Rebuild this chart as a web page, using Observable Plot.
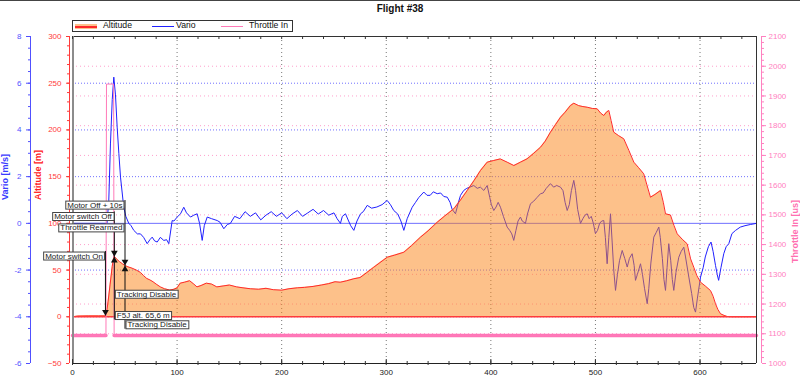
<!DOCTYPE html>
<html><head><meta charset="utf-8">
<script src="https://cdn.jsdelivr.net/npm/d3@7"></script>
<script src="https://cdn.jsdelivr.net/npm/@observablehq/plot@0.6"></script>
<style>
html,body{margin:0;padding:0;background:#fff;}
#wrap{position:relative;width:800px;height:385px;overflow:hidden;font-family:"Liberation Sans",Arial,sans-serif;}
#topline{position:absolute;left:0;top:0;width:800px;height:1px;background:#444;}
#title{position:absolute;left:0;top:3px;width:800px;text-align:center;font-weight:bold;font-size:10px;color:#111;}
#legend{position:absolute;left:72px;top:20px;width:219px;height:10px;border:1px solid #333;background:#fff;font-size:8.7px;color:#111;}
#legend .it{position:absolute;top:-1px;line-height:11px;white-space:nowrap;}
#legend .ln{position:absolute;top:5px;height:1px;width:22px;}
#legend .band{position:absolute;top:3px;height:5px;width:22px;background:#fdc18a;}
#chart{position:absolute;left:0;top:0;}
</style>
</head><body>
<div id="wrap">
  <div id="chart"></div>
  <div id="topline"></div>
  <div id="title">Flight #38</div>
  <div id="legend">
    <div class="band" style="left:2px"></div><div class="ln" style="left:2px;background:#ff2a2a;height:1.5px"></div>
    <div class="it" style="left:30px">Altitude</div>
    <div class="ln" style="left:79px;background:#2020ff"></div>
    <div class="it" style="left:103px">Vario</div>
    <div class="ln" style="left:148px;background:#ff7ab8"></div>
    <div class="it" style="left:176px">Throttle In</div>
  </div>
</div>
<script>
// ---------- data ----------
const altTimes = [0,5,15,25,31.5,32.5,34,36,38,39.5,40.5,42,45,48,50,53,57,61,65,68,71,74,77,80,84,88,93,97,100,103,107,112,116,119,123,128,133,138,144,150,157,163,170,178,185,192,200,207,215,222,230,238,245,251,256,262,269,275,281,288,294,301,308,316.8,324,332.7,340,348.7,356,364.6,371,377.4,384,390.1,396.5,402.8,409,415.6,422,428.3,434.7,441,447.5,452,457,462,466.6,471,476.1,479.3,484,488,492.1,497,501.7,505,508,510.5,512.8,515,517.5,522,527.1,532,536.7,541,546.2,549,552.6,557,562.2,565,567,571.7,575,578.2,583,587.7,591,594,597,600.5,605,610,612.5,614.8,617,619.6,623,626,630,654];
const altValues = [0,0.8,1,1,1,4,16,35,54,64.6,64,62,59,56.5,55,53.5,52,50,47.5,44,41,39.5,37.5,35,32,30,28.6,29.5,31,36,37,38.6,35,32,33.5,36,35,32,33,34,32,31,30,29.5,30.5,29,28.5,30,31,31.5,32.5,34,35.5,37.5,37,38.5,40.7,42,47,53,58,63.8,66,69.1,76,85.2,92,101.2,108,115.6,125,135.2,146,156.6,165.5,167.3,169,165.5,161.9,165.5,169.1,175,181.5,188,197.6,206,213.6,219,226.1,228.6,226,225,224.3,223,222.6,218,215.4,219,220.8,210,197.6,194,190.5,178,165.5,160,153,142,128,131,135.2,122,110.2,109,98,88.8,83,78.1,62,53.1,44,37,33,28.1,22,13.9,8,3.2,1.5,0.3,0,0];

const varioTimes = [0,33,34.7,36.3,38,39.5,41.1,42.7,44.3,45.9,49,51,53.8,56,58.6,62,65,68,71.4,74,76.2,78.5,81,84,87.3,90,92.1,95.3,97,100.1,103.3,106.4,109,112.8,116,119.2,121.5,124,126,128.8,133,138.4,141,144.7,148,151,155,160,165,170,175,180,185,190,195,200,205,210,215,220,225,230,235,240,245,250,253,256.2,258,261,264,266,269,272,275.4,278,281.8,286,291,296,300.9,304,307.2,311,314,316.8,320,324.8,328,331,335.9,339,342,345,348.7,352,355,358.3,361,363,366.2,369,371,374.1,377,380,383.7,387,390,393.3,396.5,399,400.5,402.8,405,407,409.2,412,415.6,418,420,421.9,424,426,428.3,430,433.1,435,437.9,441,444,447.5,450,453,457,460,463,466.6,469,471,473,475,477,479.3,481,483,485.7,488,490,492.1,494,496,498,500,502,504,506,508,509.5,511.2,512.8,514.4,516,517.5,519.2,521,523,525.6,528,530.4,532.5,535.1,537,538.3,540,543.1,545,547,549.5,551,553,555.8,558,560.6,562,564,565.5,567,568.5,570.1,572,573.5,574.9,577,579.7,582,584.5,586,589.3,592,594,595.7,597.5,600.5,603,605,608,610.5,612.5,614.8,616.5,617.8,620,622.7,625,627.5,630.5,634,638.5,643,648.1,654];
const varioValues = [0,0,0.98,3.4,5.3,6.26,5.5,4.12,3.0,1.98,0.69,0.3,0,-0.1,-0.3,-0.45,-0.45,-0.6,-0.87,-0.7,-0.59,-0.75,-0.8,-0.6,-0.73,-0.7,-0.87,0.12,0.1,0.27,0.41,0.69,0.45,0.27,0.35,0.41,0,-0.73,-0.1,0.27,0.2,0.12,0.05,-0.23,-0.05,0,0.3,0.2,0.5,0.3,0.45,0.15,0.35,0.5,0.3,0.45,0.2,0.4,0.55,0.3,0.45,0.6,0.4,0.55,0.35,0.45,0.2,0,0.3,0.41,0.1,-0.1,-0.3,0.1,0.41,0.5,0.77,0.65,0.7,0.8,0.98,0.8,0.55,0.4,0.1,-0.3,0.2,0.69,0.9,1.1,1.34,1.2,1.2,1.35,1.27,1.3,1.15,1.12,0.9,0.6,0.41,0.9,1.2,1.41,1.5,1.55,1.62,1.5,1.55,1.41,1.62,1.1,0.8,0.55,0.7,0.9,0.69,0.3,-0.16,-0.3,-0.45,-0.73,-0.3,0.1,0.27,0.1,0,0.4,0.84,0.95,1.1,1.27,1.3,1.5,1.7,1.55,1.62,1.55,1.4,0.9,0.55,0.8,1.4,1.84,1.4,0.6,0,0.2,0.35,0.41,0.2,0.3,0,-0.44,-0.3,0,0.1,0.12,-0.6,-1.73,-0.6,0.41,-0.8,-2.0,-2.87,-2.2,-1.6,-1.16,-1.5,-1.87,-1.5,-1.3,-1.8,-2.44,-2.2,-1.73,-2.2,-2.8,-3.44,-2.8,-1.7,-0.59,-0.4,-0.16,-0.6,-1.5,-2.4,-2.87,-1.9,-0.87,-1.6,-2.4,-2.87,-2.1,-1.45,-1.2,-1.02,-1.4,-2.3,-3.0,-3.6,-3.8,-3.2,-2.3,-1.9,-1.44,-1.0,-0.8,-1.2,-1.8,-2.2,-2.44,-1.9,-1.3,-1.0,-0.87,-0.44,-0.3,-0.16,-0.1,-0.05,0];

const throttleTimes = [0,32,32.5,39.3,39.8,654];
const throttleValues = [1094,1094,1940,1940,1094,1094];

const xTicks = [0,100,200,300,400,500,600];
const altTicks = [-50,0,50,100,150,200,250,300];
const varioTicks = [-6,-4,-2,0,2,4,6,8];
const throttleTicks = [1000,1100,1200,1300,1400,1500,1600,1700,1800,1900,2000,2100];

const annTimes  = [31.5, 40, 40, 40, 50.2, 50.2, 50.2];
const annTexts  = ["Motor switch On","Motor switch Off","F5J alt. 65,6 m","Tracking Disable","Motor Off + 10s","Throttle Rearmed","Tracking Disable"];
const annLevels = [65.1, 107.4, 1.4, 24.2, 119.6, 95.2, -8.5];

// ---------- derived ----------
const X_MAX = 654;
const varioToAlt = v => 100 + 25 * v;
const altToVario = a => (a - 100) / 25;
const thrToAlt = u => (u - 1000) * 350 / 1100 - 50;
const altToThr = a => Math.round((a + 50) * 1100 / 350 + 1000);

const altitude = altTimes.map((t, i) => ({t, a: altValues[i]}));
const vario = varioTimes.map((t, i) => ({t, v: varioValues[i]}));
const throttle = throttleTimes.map((t, i) => ({t, u: throttleValues[i]}));
const altAt = d3.scaleLinear().domain(altTimes).range(altValues);

const ann = annTimes.map((t, i) => ({t, text: annTexts[i], level: annLevels[i], alt: altAt(t)}));
const annAbove = ann.filter(d => d.level > d.alt);
const annBelow = ann.filter(d => d.level < d.alt);
const HALF = 4.8; // half label height in altitude units
const groupsAbove = d3.groups(annAbove, d => d.t).map(([t, g]) => ({t, top: d3.max(g, d => d.level) + HALF, alt: altAt(t)}));
const groupsBelow = d3.groups(annBelow, d => d.t).map(([t, g]) => ({t, bottom: d3.min(g, d => d.level) - HALF, alt: altAt(t)}));

const xMinor = d3.range(0, X_MAX, 20);
const varioMinor = d3.range(-6, 8.01, 0.5).map(varioToAlt);
const altMinor = d3.range(-50, 300.1, 10);
const thrMinor = d3.range(1000, 2100.1, 20).map(thrToAlt);

const BLUE = "#2020ff", BLUE_AX = "#5050ff", RED = "#ff2a2a", RED_AX = "#ff3a3a", PINK = "#ff7ab8", PINK_AX = "#ff80c0";
const ANN_FILL = "#202122";
const PH = 327; // plot inner height in px

const plot = Plot.plot({
  width: 800, height: 385,
  marginTop: 36, marginBottom: 22, marginLeft: 72, marginRight: 44,
  x: {domain: [0, X_MAX]},
  y: {domain: [-50, 300]},
  style: {fontFamily: "'Liberation Sans', Arial, sans-serif", fontSize: "8px", background: "transparent", overflow: "visible"},
  marks: [
    // grids
    Plot.ruleX(xTicks.filter(d => d > 0), {stroke: "#777", strokeDasharray: "1,3"}),
    Plot.ruleY(throttleTicks.filter(d => d > 1000 && d < 2100).map(thrToAlt), {stroke: "#ff9fcc", strokeDasharray: "1,3"}),
    Plot.ruleY(varioTicks.filter(d => d !== 0 && d > -6 && d < 8).map(varioToAlt), {stroke: "#7070ff", strokeDasharray: "1,2"}),
    // vario
    Plot.ruleY([varioToAlt(0)], {stroke: "#6f6fff"}),
    Plot.line(vario, {x: "t", y: d => varioToAlt(d.v), stroke: BLUE, strokeWidth: 1}),
    // altitude
    Plot.areaY(altitude, {x: "t", y: "a", fill: "#fb8416", fillOpacity: 0.5}),
    Plot.line(altitude, {x: "t", y: "a", stroke: RED, strokeWidth: 1}),
    Plot.ruleY([0], {stroke: "#ff3b3b", strokeWidth: 1.6}),
    // throttle
    Plot.line(throttle, {x: "t", y: d => d.u < 1200 ? thrToAlt(d.u) : NaN, stroke: "#ff74b6", strokeWidth: 3.5, strokeDasharray: "6,1,9,1,4,1,12,1"}),
    Plot.line(throttle, {x: "t", y: d => thrToAlt(d.u), stroke: PINK, strokeWidth: 1}),
    // frame
    Plot.ruleY([300], {stroke: "#333"}),
    Plot.ruleX([X_MAX], {stroke: "#333"}),
    Plot.ruleY([-50], {stroke: "#222"}),
    Plot.ruleX([0], {stroke: "#8c8c8c", strokeWidth: 2, dx: 0.5}),
    // x axis
    Plot.axisX(xTicks, {anchor: "bottom", tickSize: 0, tickPadding: 6, color: "#222", fontSize: 8, label: null}),
    Plot.axisX(xMinor, {anchor: "bottom", tickSize: 2, fill: "none", stroke: "#333", label: null}),
    Plot.axisX(xMinor, {anchor: "top", dy: PH, tickSize: 3, fill: "none", stroke: "#333", label: null}),
    Plot.axisX(xTicks, {anchor: "top", dy: PH, tickSize: 5, fill: "none", stroke: "#333", label: null}),
    Plot.axisX(xMinor, {anchor: "bottom", dy: -PH, tickSize: 3, fill: "none", stroke: "#333", label: null}),
    // vario axis
    Plot.ruleX([0], {y1: -50, y2: 300, dx: -42, stroke: BLUE_AX}),
    Plot.axisY(varioTicks.map(varioToAlt), {anchor: "left", dx: -42, tickSize: 4, tickPadding: 5, color: BLUE_AX, fontSize: 8, tickFormat: a => String(altToVario(a)), label: null}),
    Plot.axisY(varioMinor, {anchor: "left", dx: -42, tickSize: 2, fill: "none", stroke: BLUE_AX, label: null}),
    Plot.text(["Vario [m/s]"], {frameAnchor: "left", dx: -67, rotate: -90, fill: "#3b3bff", fontWeight: "bold", fontSize: 9}),
    // altitude axis
    Plot.ruleX([0], {y1: -50, y2: 300, dx: -3, stroke: RED_AX}),
    Plot.axisY(altTicks, {anchor: "left", dx: -3, tickSize: 3, tickPadding: 5, color: RED_AX, fontSize: 8, label: null}),
    Plot.axisY(altMinor, {anchor: "left", dx: -3, tickSize: 2, fill: "none", stroke: RED_AX, label: null}),
    Plot.text(["Altitude [m]"], {frameAnchor: "left", dx: -34, rotate: -90, fill: "#ff2020", fontWeight: "bold", fontSize: 9}),
    // throttle axis
    Plot.ruleX([X_MAX], {y1: -50, y2: 300, dx: 5, stroke: PINK_AX}),
    Plot.axisY(throttleTicks.map(thrToAlt), {anchor: "right", dx: 5, tickSize: 4, tickPadding: 3, color: PINK_AX, fontSize: 8, tickFormat: a => String(altToThr(a)), label: null}),
    Plot.axisY(thrMinor, {anchor: "right", dx: 5, tickSize: 2, fill: "none", stroke: PINK_AX, label: null}),
    Plot.text(["Throttle In [us]"], {frameAnchor: "right", dx: 39, rotate: -90, fill: "#ff6fb0", fontWeight: "bold", fontSize: 9}),
    // annotations
    Plot.ruleX(groupsAbove, {x: "t", y1: "top", y2: "alt", stroke: "#111"}),
    Plot.ruleX(groupsBelow, {x: "t", y1: "bottom", y2: "alt", stroke: "#111"}),
    Plot.dot(groupsAbove, {x: "t", y: "alt", symbol: "triangle", r: 2.5, rotate: 180, dy: -3.9, fill: "#111", stroke: "none"}),
    Plot.dot(groupsBelow, {x: "t", y: "alt", symbol: "triangle", r: 2.5, dy: 3.9, fill: "#111", stroke: "none"}),
    Plot.text(annAbove, {x: "t", y: "level", text: "text", textAnchor: "end", dx: -2.5, fill: ANN_FILL, fontSize: 8}),
    Plot.text(annBelow, {x: "t", y: "level", text: "text", textAnchor: "start", dx: 2.5, fill: ANN_FILL, fontSize: 8})
  ]
});
document.getElementById("chart").appendChild(plot);

// white boxes behind annotation labels
plot.querySelectorAll("g").forEach(g => {
  const f = (g.getAttribute("fill") || "").toLowerCase();
  if (f !== ANN_FILL) return;
  g.querySelectorAll("text").forEach(t => {
    const b = t.getBBox();
    const r = document.createElementNS("http://www.w3.org/2000/svg", "rect");
    r.setAttribute("x", b.x - 1.5);
    r.setAttribute("y", b.y + 0.5);
    r.setAttribute("width", b.width + 3);
    r.setAttribute("height", b.height - 1);
    r.setAttribute("fill", "#fff");
    r.setAttribute("stroke", "#444");
    r.setAttribute("stroke-width", "1");
    const tr = t.getAttribute("transform");
    if (tr) r.setAttribute("transform", tr);
    t.parentNode.insertBefore(r, t);
  });
});
</script>
</body></html>
